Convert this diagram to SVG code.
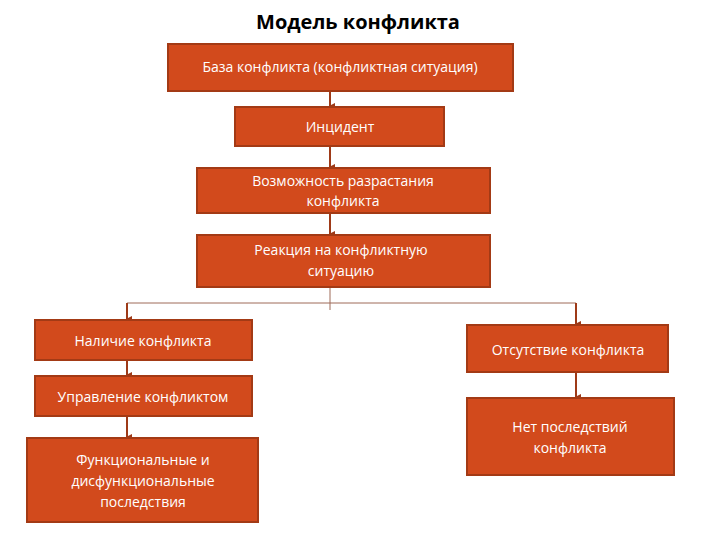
<svg xmlns="http://www.w3.org/2000/svg" width="720" height="540" viewBox="0 0 720 540">
<defs><marker id="a" markerWidth="6" markerHeight="6" refX="3" refY="5" orient="auto-start-reverse" markerUnits="userSpaceOnUse"><path d="M0,0 L6,0 L3,6 z" fill="#9E3A18"/></marker></defs>
<style>
.b{fill:#D24A1C;stroke:#A33A15;stroke-width:2}
.t{font-family:"Open Sans","DejaVu Sans",sans-serif;font-size:14px;fill:#fff;text-anchor:middle}
.c{stroke:#9E3A18;stroke-width:2;fill:none}
.h{font-family:"Open Sans","DejaVu Sans",sans-serif;font-size:20px;font-weight:bold;fill:#000;text-anchor:middle}
</style>
<text class="h" x="358" y="29">Модель конфликта</text>
<g id="connectors">
<path class="c" d="M330,92 V106" marker-end="url(#a)"/>
<path class="c" d="M330,147 V167" marker-end="url(#a)"/>
<path class="c" d="M330,214 V234" marker-end="url(#a)"/>
<path d="M330,288 V310 M127,303 H576" stroke="#9E6A58" stroke-width="1" fill="none"/>
<path class="c" d="M127,303 V319" marker-end="url(#a)"/>
<path class="c" d="M576,303 V324" marker-end="url(#a)"/>
<path class="c" d="M127,361 V375" marker-end="url(#a)"/>
<path class="c" d="M127,417 V437" marker-end="url(#a)"/>
<path class="c" d="M576,373 V397" marker-end="url(#a)"/>
</g>
<g id="n1"><rect class="b" x="168" y="44" width="345" height="47"/><text class="t" x="340" y="72">База конфликта (конфликтная ситуация)</text></g>
<g id="n2"><rect class="b" x="235" y="107" width="209" height="39"/><text class="t" x="340" y="132">Инцидент</text></g>
<g id="n3"><rect class="b" x="197" y="168" width="293" height="45"/><text class="t" x="343" y="186">Возможность разрастания</text><text class="t" x="343" y="206">конфликта</text></g>
<g id="n4"><rect class="b" x="197" y="235" width="293" height="52"/><text class="t" x="341" y="255">Реакция на конфликтную</text><text class="t" x="341" y="276">ситуацию</text></g>
<g id="n5"><rect class="b" x="35" y="320" width="217" height="40"/><text class="t" x="143" y="346">Наличие конфликта</text></g>
<g id="n6"><rect class="b" x="467" y="325" width="201" height="47"/><text class="t" x="568" y="355">Отсутствие конфликта</text></g>
<g id="n7"><rect class="b" x="35" y="376" width="217" height="40"/><text class="t" x="143" y="402">Управление конфликтом</text></g>
<g id="n8"><rect class="b" x="27" y="438" width="231" height="84"/><text class="t" x="143" y="465">Функциональные и</text><text class="t" x="143" y="486">дисфункциональные</text><text class="t" x="143" y="507">последствия</text></g>
<g id="n9"><rect class="b" x="467" y="398" width="207" height="77"/><text class="t" x="570" y="432">Нет последствий</text><text class="t" x="570" y="453">конфликта</text></g>
</svg>
